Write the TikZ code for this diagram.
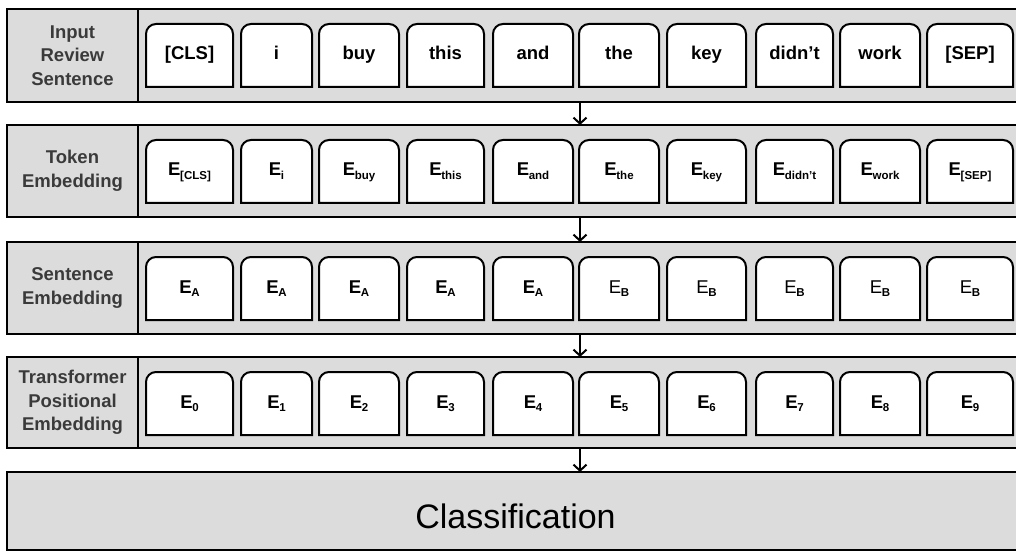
\documentclass[tikz,border=0pt]{standalone}
\usepackage{fontspec}
\setmainfont{Liberation Sans}
\usetikzlibrary{arrows.meta}
\pgfdeclarelayer{bg}
\pgfdeclarelayer{mid}
\pgfsetlayers{bg,mid,main}

\definecolor{panel}{HTML}{DCDCDC}
\definecolor{labeltext}{HTML}{3A3A3A}

% E with a small subscript, as used in the embedding rows
\newcommand\Esub[1]{E\kern-0.3pt\raisebox{-3.6pt}{\fontsize{11.5}{11.5}\selectfont #1}}
\newcommand\EBsub{{\mdseries E}\kern-0.3pt\raisebox{-3.6pt}{\fontsize{11.5}{11.5}\selectfont\bfseries B}}

% left and right edges of the ten token boxes
\def\xalist{{146,241,319,407,493,579,667,756,840,927}}
\def\xblist{{233,312,399,484,573,659,746,833,920,1013}}

% one row of ten tokens: #1 row id, #2 row top, #3 token texts
\newcommand\tokrow[3]{%
  \foreach \txt [count=\i] in {#3} {
    \pgfmathsetmacro\xa{\xalist[\i-1]}
    \pgfmathsetmacro\xb{\xblist[\i-1]}
    \node[tok, minimum width=\xb-\xa] (t#1-\i) at ({(\xa+\xb)/2},{#2+46.5}) {\txt};
    \begin{pgfonlayer}{mid}
      \draw[tokline] (t#1-\i.south west) [rounded corners=10pt] -- (t#1-\i.north west)
        -- (t#1-\i.north east) [sharp corners] -- (t#1-\i.south east) -- cycle;
    \end{pgfonlayer}
  }}

\begin{document}
\begin{tikzpicture}[x=1pt, y=-1pt,
  panelbox/.style={draw=black, line width=2.4pt, fill=panel, inner sep=0pt, outer sep=0pt},
  rowlabel/.style={panelbox, anchor=north west, minimum width=131, align=center,
    text=labeltext, font=\fontsize{18.5}{23.5}\selectfont\bfseries},
  rowbody/.style={panelbox, anchor=north west, minimum width=886},
  tok/.style={inner sep=0pt, outer sep=0pt, minimum height=63,
    text height=13pt, text depth=4pt,
    font=\fontsize{18.5}{20}\selectfont\bfseries},
  tokline/.style={draw=black, line width=2pt, fill=white},
  arr/.style={line width=2pt, -{Straight Barb[length=6pt, width=13pt, line width=2pt]}},
]
\useasboundingbox (0,0) rectangle (1016,553);
\clip (0,0) rectangle (1016,553);

% the four input rows: label cell and token strip
\begin{pgfonlayer}{bg}
\node[rowlabel, minimum height=93] (l1) at (7,9)   {Input\\Review\\Sentence};
\node[rowbody,  minimum height=93] (b1) at (138,9) {};
\node[rowlabel, minimum height=92] (l2) at (7,125)   {Token\\Embedding};
\node[rowbody,  minimum height=92] (b2) at (138,125) {};
\node[rowlabel, minimum height=92] (l3) at (7,242)   {Sentence\\Embedding};
\node[rowbody,  minimum height=92] (b3) at (138,242) {};
\node[rowlabel, minimum height=91] (l4) at (7,357)   {Transformer\\Positional\\Embedding};
\node[rowbody,  minimum height=91] (b4) at (138,357) {};
\node[panelbox, anchor=north west, minimum width=1017, minimum height=78] (cls) at (7,472) {};
\end{pgfonlayer}
\node[font=\fontsize{34}{38}\selectfont, yshift=-5pt] at (cls.center) {Classification};

% tokens
\tokrow{1}{9}{{[CLS]},i,buy,this,and,the,key,didn't,work,{[SEP]}}
\tokrow{2}{125}{{\Esub{[CLS]}},{\Esub{i}},{\Esub{buy}},{\Esub{this}},{\Esub{and}},
  {\Esub{the}},{\Esub{key}},{\Esub{didn't}},{\Esub{work}},{\Esub{[SEP]}}}
\tokrow{3}{242}{{\Esub{A}},{\Esub{A}},{\Esub{A}},{\Esub{A}},{\Esub{A}},
  \EBsub,\EBsub,\EBsub,\EBsub,\EBsub}
\tokrow{4}{357}{{\Esub{0}},{\Esub{1}},{\Esub{2}},{\Esub{3}},{\Esub{4}},
  {\Esub{5}},{\Esub{6}},{\Esub{7}},{\Esub{8}},{\Esub{9}}}

% flow arrows between the stages
\coordinate (ax) at (580,0);
\draw[arr] (b1.south -| ax) -- (b2.north -| ax);
\draw[arr] (b2.south -| ax) -- (b3.north -| ax);
\draw[arr] (b3.south -| ax) -- (b4.north -| ax);
\draw[arr] (b4.south -| ax) -- (cls.north -| ax);
\end{tikzpicture}
\end{document}
